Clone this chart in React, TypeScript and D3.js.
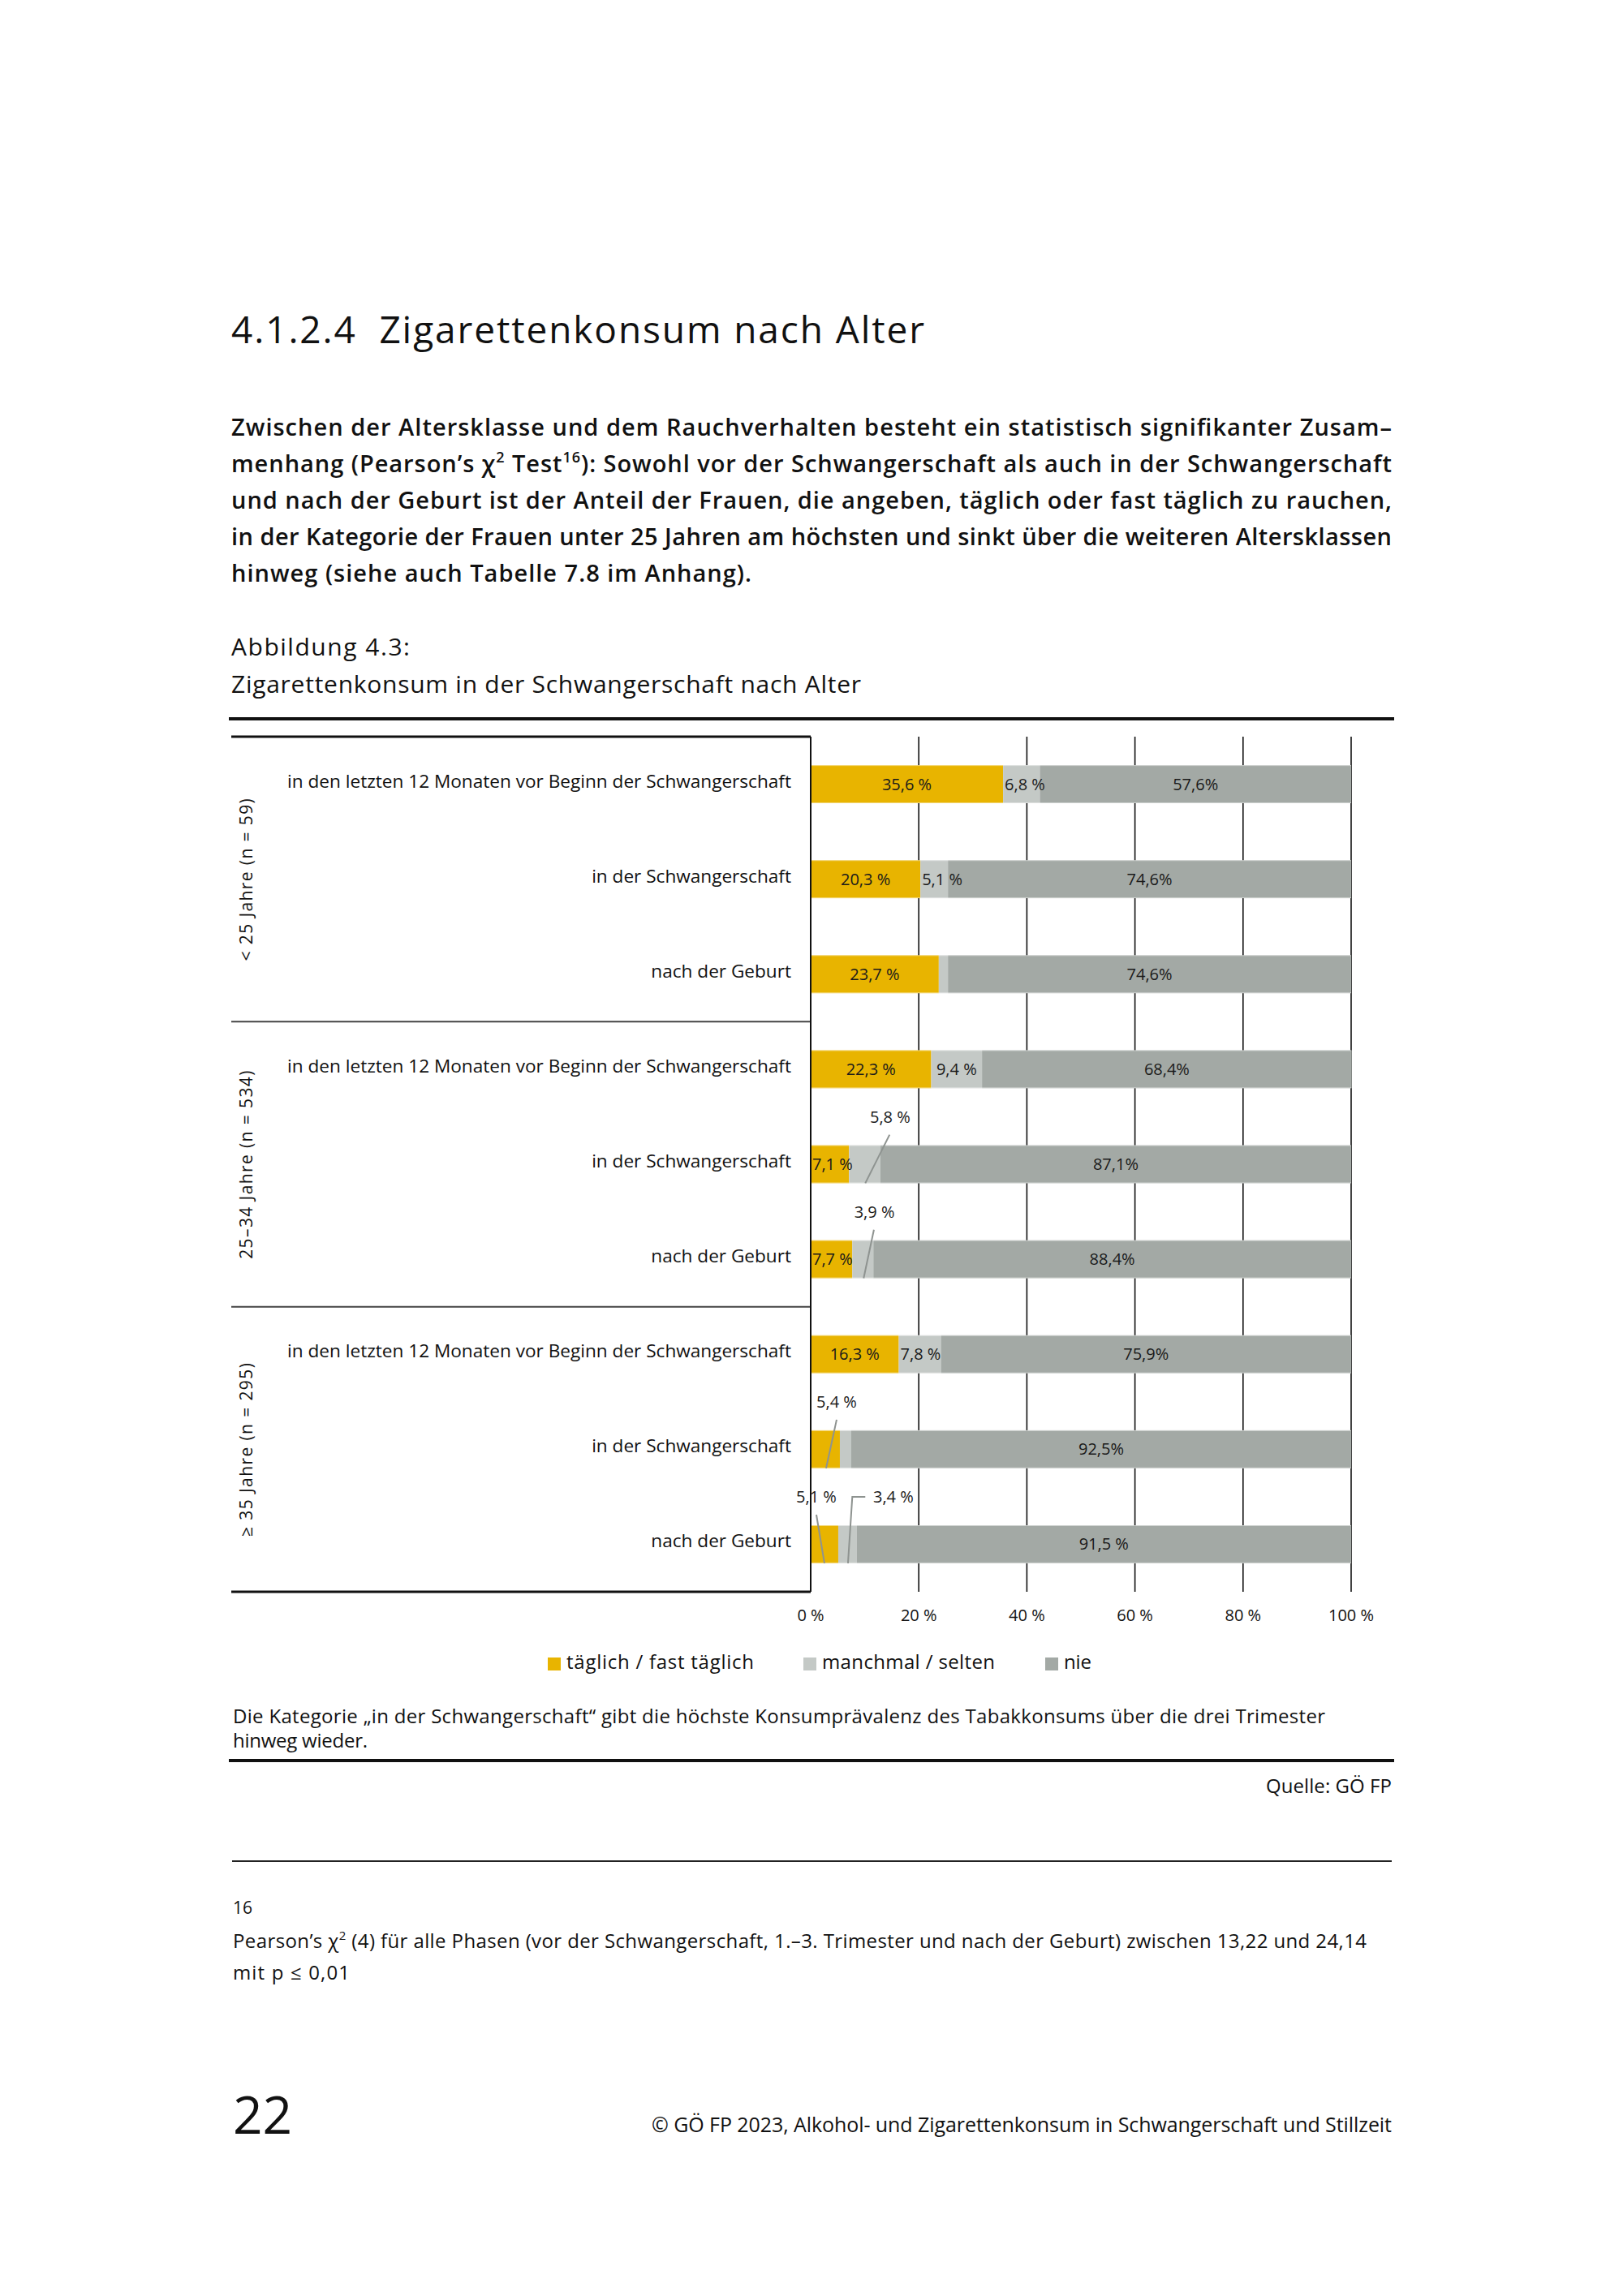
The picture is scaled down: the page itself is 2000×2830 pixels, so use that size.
import React from "react";
import * as d3 from "d3";

// ---------- data ----------
const CATEGORIES = [
  "in den letzten 12 Monaten vor Beginn der Schwangerschaft",
  "in der Schwangerschaft",
  "nach der Geburt",
];
const GROUPS = ["< 25 Jahre (n = 59)", "25–34 Jahre (n = 534)", "≥ 35 Jahre (n = 295)"];
const SERIES = ["täglich / fast täglich", "manchmal / selten", "nie"];
const SERIES_KEYS = ["taeglich", "manchmal", "nie"];
const COLORS = ["#E8B400", "#C4C9C6", "#A3A9A5"];

const TAEGLICH = [35.6, 20.3, 23.7, 22.3, 7.1, 7.7, 16.3, 5.4, 5.1];
const MANCHMAL = [6.8, 5.1, 1.7, 9.4, 5.8, 3.9, 7.8, 2.1, 3.4];
const NIE = [57.6, 74.6, 74.6, 68.4, 87.1, 88.4, 75.9, 92.5, 91.5];

const LABEL_TAEGLICH = ["35,6 %", "20,3 %", "23,7 %", "22,3 %", "7,1 %", "7,7 %", "16,3 %", null, null];
const LABEL_MANCHMAL = ["6,8 %", "5,1 %", null, "9,4 %", null, null, "7,8 %", null, null];
const LABEL_NIE = ["57,6%", "74,6%", "74,6%", "68,4%", "87,1%", "88,4%", "75,9%", "92,5%", "91,5 %"];

// external callouts: row, text, label centre (%), leader line from (%) to (%)
const CALLOUT_ROW = [4, 5, 7, 8, 8];
const CALLOUT_TEXT = ["5,8 %", "3,9 %", "5,4 %", "5,1 %", "3,4 %"];
const CALLOUT_LABEL_X = [14.7, 11.8, 4.8, 1.05, 15.3];
const CALLOUT_LINE_FROM = [14.6, 11.7, 4.8, 1.05, 10.1];
const CALLOUT_LINE_TO = [10.1, 9.8, 2.85, 2.55, 6.9];
const CALLOUT_ELBOW = [null, null, null, null, 7.7];

const TICKS = [0, 20, 40, 60, 80, 100];
const TICK_LABELS = ["0 %", "20 %", "40 %", "60 %", "80 %", "100 %"];

const PARAGRAPH = [
  "Zwischen der Altersklasse und dem Rauchverhalten besteht ein statistisch signifikanter Zusam–",
  "menhang (Pearson’s χ",
  "und nach der Geburt ist der Anteil der Frauen, die angeben, täglich oder fast täglich zu rauchen,",
  "in der Kategorie der Frauen unter 25 Jahren am höchsten und sinkt über die weiteren Altersklassen",
  "hinweg (siehe auch Tabelle 7.8 im Anhang).",
];

const FONT = "'Open Sans', 'Noto Sans', sans-serif";

export default function App() {
  const W = 2000;
  const H = 2830;

  const left = 999;
  const right = 1665;
  const top = 908;
  const bottom = 1962;
  const tableLeft = 285;

  const x = d3.scaleLinear().domain([0, 100]).range([left, right]);
  const rows = d3.range(TAEGLICH.length);
  const y = d3
    .scaleBand<number>()
    .domain(rows)
    .range([top, bottom])
    .paddingInner(0.6)
    .paddingOuter(0.3);
  const groupY = d3.scaleBand<number>().domain(d3.range(GROUPS.length)).range([top, bottom]);

  const table = rows.map((i) => ({
    taeglich: TAEGLICH[i],
    manchmal: MANCHMAL[i],
    nie: NIE[i],
  }));
  const stacked = d3.stack<any>().keys(SERIES_KEYS)(table);
  const labels = [LABEL_TAEGLICH, LABEL_MANCHMAL, LABEL_NIE];

  const bw = y.bandwidth();
  const labelFont = 20;
  const approxWidth = (s: string) => s.length * labelFont * 0.5;

  const legendX = [675, 990, 1288];
  const legendW = [231, 213, 34];

  return (
    <svg
      width={W}
      height={H}
      viewBox={`0 0 ${W} ${H}`}
      style={{ position: "absolute", left: 0, top: 0, background: "#fff" }}
      fontFamily={FONT}
    >
      <rect x={0} y={0} width={W} height={H} fill="#fff" />

      {/* heading */}
      <text x={285} y={423} fontSize={46} fill="#111" textLength={854} lengthAdjust="spacing">
        4.1.2.4{"\u00a0\u00a0"}Zigarettenkonsum nach Alter
      </text>

      {/* paragraph */}
      <g fontSize={29} fontWeight={600} fill="#111">
        <text x={285} y={537} textLength={1430} lengthAdjust="spacing">
          {PARAGRAPH[0]}
        </text>
        <text x={285} y={582} textLength={1430} lengthAdjust="spacing">
          {PARAGRAPH[1]}
          <tspan dy={-12} fontSize={18}>2</tspan>
          <tspan dy={12}> Test</tspan>
          <tspan dy={-12} fontSize={18}>16</tspan>
          <tspan dy={12}>): Sowohl vor der Schwangerschaft als auch in der Schwangerschaft</tspan>
        </text>
        <text x={285} y={627} textLength={1430} lengthAdjust="spacing">
          {PARAGRAPH[2]}
        </text>
        <text x={285} y={672} textLength={1430} lengthAdjust="spacing">
          {PARAGRAPH[3]}
        </text>
        <text x={285} y={717} textLength={641} lengthAdjust="spacing">
          {PARAGRAPH[4]}
        </text>
      </g>

      {/* figure title */}
      <g fontSize={30} fontWeight={500} fill="#111">
        <text x={285} y={808} textLength={220} lengthAdjust="spacing">Abbildung 4.3:</text>
        <text x={285} y={854} textLength={776} lengthAdjust="spacing">
          Zigarettenkonsum in der Schwangerschaft nach Alter
        </text>
      </g>
      <line x1={282} x2={1718} y1={886} y2={886} stroke="#111" strokeWidth={4} />

      {/* gridlines */}
      {TICKS.slice(1).map((t) => (
        <line key={t} x1={x(t)} x2={x(t)} y1={top} y2={bottom} stroke="#111" strokeWidth={1.6} />
      ))}

      {/* table lines */}
      <line x1={tableLeft} x2={left} y1={top} y2={top} stroke="#111" strokeWidth={3} />
      {[1, 2].map((g) => (
        <line
          key={g}
          x1={tableLeft}
          x2={left}
          y1={groupY(g)!}
          y2={groupY(g)!}
          stroke="#444"
          strokeWidth={2}
        />
      ))}
      <line x1={tableLeft} x2={left} y1={bottom} y2={bottom} stroke="#111" strokeWidth={3} />

      {/* group labels */}
      {GROUPS.map((g, i) => (
        <text
          key={g}
          transform={`translate(311, ${groupY(i)! + groupY.bandwidth() / 2}) rotate(-90)`}
          textAnchor="middle"
          fontSize={21}
          letterSpacing={1.4}
          fill="#111"
        >
          {g}
        </text>
      ))}

      {/* row labels */}
      {rows.map((i) => (
        <text
          key={i}
          x={975}
          y={y(i)! + bw / 2 + 4}
          textAnchor="end"
          fontSize={22.6}
          fill="#111"
        >
          {CATEGORIES[i % 3]}
        </text>
      ))}

      {/* bars */}
      {stacked.map((s, si) => (
        <g key={s.key}>
          {s.map((d, i) => (
            <rect
              key={i}
              x={x(d[0])}
              y={y(i)!}
              width={x(d[1]) - x(d[0])}
              height={bw}
              fill={COLORS[si]}
            />
          ))}
        </g>
      ))}
      {/* bar top/bottom light edges */}
      {rows.map((i) => (
        <g key={i}>
          <line x1={x(0)} x2={x(100)} y1={y(i)! + 0.5} y2={y(i)! + 0.5} stroke="#fff" strokeOpacity={0.45} strokeWidth={1} />
          <line x1={x(0)} x2={x(100)} y1={y(i)! + bw - 0.5} y2={y(i)! + bw - 0.5} stroke="#fff" strokeOpacity={0.45} strokeWidth={1} />
        </g>
      ))}

      {/* axis line */}
      <line x1={left} x2={left} y1={top} y2={bottom} stroke="#111" strokeWidth={2} />

      {/* inside labels */}
      {stacked.map((s, si) => (
        <g key={s.key} fontSize={labelFont} fill="#1a1a1a">
          {s.map((d, i) => {
            const t = labels[si][i];
            if (!t) return null;
            const x0 = x(d[0]);
            const x1 = x(d[1]);
            const fits = approxWidth(t) <= x1 - x0 - 2;
            return (
              <text
                key={i}
                x={fits ? (x0 + x1) / 2 : x0 + 2}
                y={y(i)! + bw / 2 + 7}
                textAnchor={fits ? "middle" : "start"}
              >
                {t}
              </text>
            );
          })}
        </g>
      ))}

      {/* callouts */}
      {CALLOUT_TEXT.map((t, k) => {
        const r = CALLOUT_ROW[k];
        const barTop = y(r)!;
        const ly = barTop - 35;
        const elbow = CALLOUT_ELBOW[k];
        let path: string;
        if (elbow !== null) {
          path = `M${x(CALLOUT_LINE_FROM[k])},${ly} L${x(elbow)},${ly} L${x(CALLOUT_LINE_TO[k])},${barTop + bw}`;
        } else {
          path = `M${x(CALLOUT_LINE_FROM[k])},${barTop - 13} L${x(CALLOUT_LINE_TO[k])},${barTop + bw}`;
        }
        return (
          <g key={k}>
            <path d={path} fill="none" stroke="#8E9390" strokeWidth={2} />
            <text x={x(CALLOUT_LABEL_X[k])} y={ly + 7} textAnchor="middle" fontSize={labelFont} fill="#1a1a1a">
              {t}
            </text>
          </g>
        );
      })}

      {/* tick labels */}
      {TICKS.map((t, i) => (
        <text key={t} x={x(t)} y={1998} textAnchor="middle" fontSize={20} fill="#111">
          {TICK_LABELS[i]}
        </text>
      ))}

      {/* legend */}
      {SERIES.map((s, i) => (
        <g key={s}>
          <rect x={legendX[i]} y={2043} width={16} height={16} fill={COLORS[i]} />
          <text
            x={legendX[i] + 23}
            y={2057}
            fontSize={24}
            fill="#111"
            textLength={legendW[i]}
            lengthAdjust="spacing"
          >
            {s}
          </text>
        </g>
      ))}

      {/* note */}
      <g fontSize={24} fill="#111">
        <text x={287} y={2124} textLength={1346} lengthAdjust="spacing">
          Die Kategorie „in der Schwangerschaft“ gibt die höchste Konsumprävalenz des Tabakkonsums über die drei Trimester
        </text>
        <text x={287} y={2154} textLength={166} lengthAdjust="spacing">hinweg wieder.</text>
      </g>
      <line x1={282} x2={1718} y1={2170} y2={2170} stroke="#111" strokeWidth={4} />
      <text x={1715} y={2210} textAnchor="end" fontSize={24} fill="#111" textLength={155} lengthAdjust="spacing">
        Quelle: GÖ FP
      </text>

      {/* footnote */}
      <line x1={286} x2={1715} y1={2294} y2={2294} stroke="#222" strokeWidth={2} />
      <g fontSize={24} fill="#111">
        <text x={287} y={2359} fontSize={21}>16</text>
        <text x={287} y={2401} textLength={1397} lengthAdjust="spacing">
          Pearson’s χ<tspan dy={-10} fontSize={15}>2</tspan>
          <tspan dy={10}> (4) für alle Phasen (vor der Schwangerschaft, 1.–3. Trimester und nach der Geburt) zwischen 13,22 und 24,14</tspan>
        </text>
        <text x={287} y={2440} textLength={144} lengthAdjust="spacing">mit p ≤ 0,01</text>
      </g>

      {/* page footer */}
      <text x={287} y={2630} fontSize={64} fill="#111">22</text>
      <text x={1715} y={2628} textAnchor="end" fontSize={25} fill="#111" textLength={912} lengthAdjust="spacing">
        © GÖ FP 2023, Alkohol- und Zigarettenkonsum in Schwangerschaft und Stillzeit
      </text>
    </svg>
  );
}
